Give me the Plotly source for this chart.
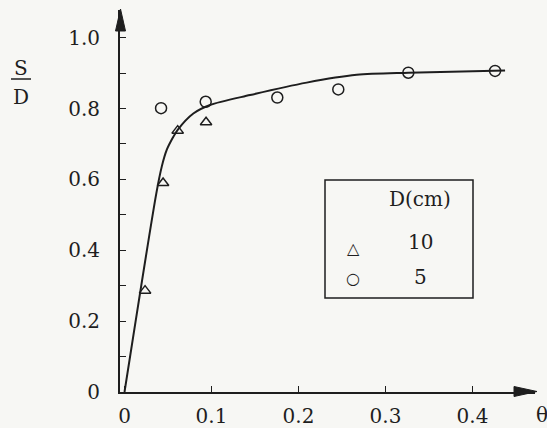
import plotly.graph_objects as go

# Measured points: open triangles (D = 10 cm) and open circles (D = 5 cm)
theta_d10 = [0.0236, 0.0443, 0.0611, 0.0937]
sd_d10 = [0.286, 0.590, 0.7375, 0.761]

theta_d5 = [0.042, 0.0933, 0.1756, 0.2457, 0.3262, 0.4259]
sd_d5 = [0.801, 0.819, 0.831, 0.854, 0.901, 0.906]

# Fitted trend curve
curve_theta = [0.0, 0.0365, 0.0428, 0.0485, 0.0561, 0.0611, 0.0791, 0.0983,
               0.1443, 0.2094, 0.2669, 0.3262, 0.4374]
curve_sd = [0.0, 0.560, 0.636, 0.683, 0.720, 0.740, 0.786, 0.810,
            0.838, 0.873, 0.895, 0.901, 0.907]

x_ticks = [0, 0.1, 0.2, 0.3, 0.4]
x_labels = ["0", "0.1", "0.2", "0.3", "0.4"]
y_ticks = [0, 0.2, 0.4, 0.6, 0.8, 1.0]
y_labels = ["0", "0.2", "0.4", "0.6", "0.8", "1.0"]

legend_title = "D(cm)"
legend_labels = ["10", "5"]

W, H = 547, 428
ML, MR, MT, MB = 120, 12, 10, 36
PW, PH = W - ML - MR, H - MT - MB
X_RANGE = [-0.0052, 0.4718]
Y_RANGE = [0.0, 1.078]

INK = "#1e1e1e"
FONT = "DejaVu Serif"


def px(x):
    return (x - ML) / PW


def py(y):
    return (H - MB - y) / PH


fig = go.Figure()

fig.add_trace(go.Scatter(
    x=curve_theta, y=curve_sd, mode="lines",
    line=dict(color=INK, width=2, shape="spline", smoothing=0.8),
    showlegend=False, hoverinfo="skip",
))
fig.add_trace(go.Scatter(
    x=theta_d10, y=sd_d10, mode="markers",
    marker=dict(symbol="triangle-up-open", size=10, color=INK, line=dict(width=1.5)),
    showlegend=False,
))
fig.add_trace(go.Scatter(
    x=theta_d5, y=sd_d5, mode="markers",
    marker=dict(symbol="circle-open", size=11, color=INK, line=dict(width=1.5)),
    showlegend=False,
))

shapes = []
# arrowheads at the ends of both axes
shapes.append(dict(
    type="path", xref="paper", yref="paper",
    path=f"M {px(115.5)} {py(31)} L {px(120.5)} {py(9)} L {px(125.5)} {py(31)} Z",
    fillcolor=INK, line=dict(color=INK, width=1),
))
shapes.append(dict(
    type="path", xref="paper", yref="paper",
    path=f"M {px(514)} {py(386.5)} L {px(537)} {py(391.5)} L {px(514)} {py(396.5)} Z",
    fillcolor=INK, line=dict(color=INK, width=1),
))
# fraction bar of the S/D label
shapes.append(dict(
    type="line", xref="paper", yref="paper",
    x0=px(11), x1=px(31), y0=py(79), y1=py(79),
    line=dict(color=INK, width=1.5),
))
# legend frame
shapes.append(dict(
    type="rect", xref="paper", yref="paper",
    x0=px(325), x1=px(473), y0=py(298), y1=py(180),
    line=dict(color=INK, width=1.5), fillcolor="rgba(0,0,0,0)",
))

annotations = []


def label(text, x, y, size=20, family=FONT):
    annotations.append(dict(
        text=text, x=px(x), y=py(y), xref="paper", yref="paper",
        xanchor="center", yanchor="middle", showarrow=False,
        font=dict(family=family, size=size, color=INK),
    ))


label("S", 21, 68)
label("D", 21, 97)
label("θ", 542, 415)
label(legend_title, 420, 199)
label(legend_labels[0], 420, 242)
label(legend_labels[1], 420, 277)
# legend keys
label("△", 353, 248, size=16, family="DejaVu Sans")
label("○", 353, 278, size=16, family="DejaVu Sans")

fig.update_layout(
    width=W, height=H,
    margin=dict(l=ML, r=MR, t=MT, b=MB, pad=0, autoexpand=False),
    paper_bgcolor="#f7f7f4", plot_bgcolor="rgba(0,0,0,0)",
    shapes=shapes, annotations=annotations,
    showlegend=False,
    font=dict(family=FONT, size=20, color=INK),
)
fig.update_xaxes(
    range=X_RANGE, showgrid=False, zeroline=False, automargin=False,
    showline=True, linecolor=INK, linewidth=2,
    tickmode="array", tickvals=x_ticks, ticktext=x_labels,
    ticks="inside", ticklen=6, tickwidth=1, tickcolor=INK,
    ticklabelstandoff=5, tickfont=dict(family=FONT, size=20, color=INK),
)
fig.update_yaxes(
    range=Y_RANGE, showgrid=False, zeroline=False, automargin=False,
    showline=True, linecolor=INK, linewidth=2,
    tickmode="array", tickvals=y_ticks, ticktext=y_labels,
    ticks="inside", ticklen=6, tickwidth=1, tickcolor=INK,
    minor=dict(tickmode="array", tickvals=[0.1, 0.3, 0.5, 0.7, 0.9],
               ticks="inside", ticklen=6, tickwidth=1, tickcolor=INK),
    ticklabelstandoff=14, tickfont=dict(family=FONT, size=20, color=INK),
)

fig.write_html("out.html")
